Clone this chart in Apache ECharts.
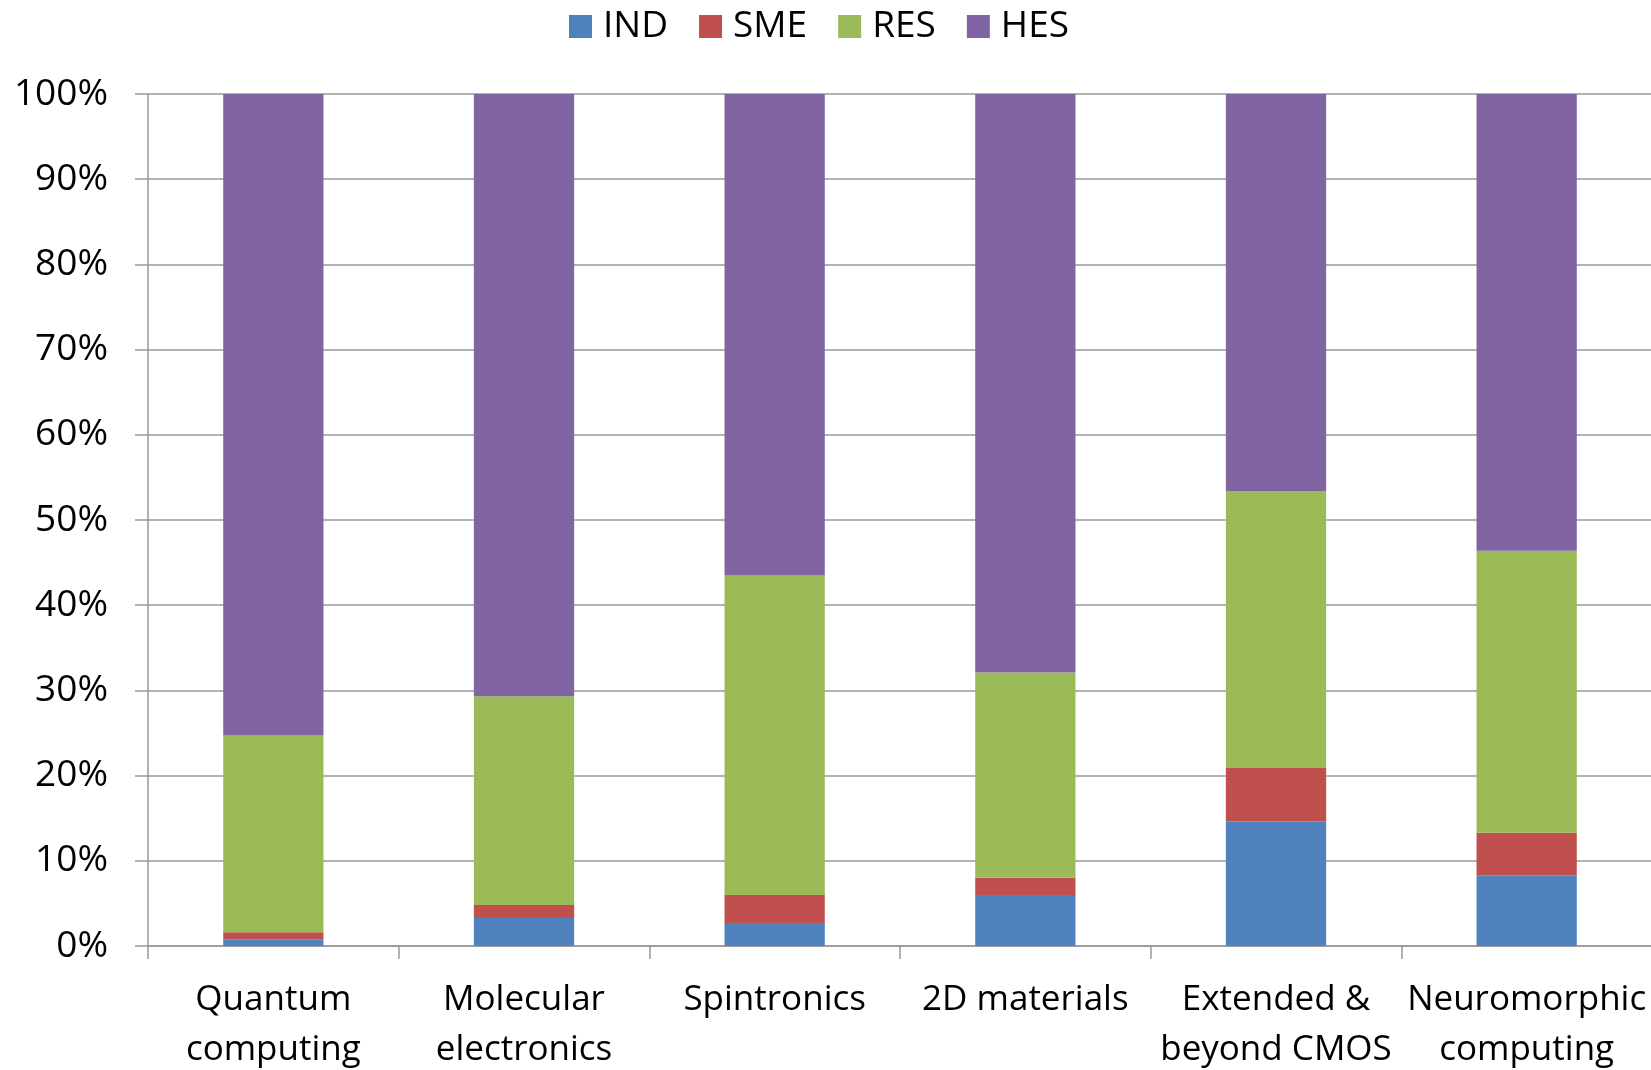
<!DOCTYPE html>
<html><head><meta charset="utf-8">
<script src="https://cdn.jsdelivr.net/npm/echarts@6/dist/echarts.min.js"></script>
<style>html,body{margin:0;padding:0;background:#fff}#c{width:1651px;height:1070px}</style>
</head><body><div id="c"></div>
<script>
const categories = ['Quantum\ncomputing','Molecular\nelectronics','Spintronics','2D materials','Extended &\nbeyond CMOS','Neuromorphic\ncomputing'];
const IND = [0.8, 3.3, 2.7, 6.0, 14.6, 8.3];
const SME = [0.8, 1.5, 3.3, 2.0, 6.3, 5.0];
const RES = [23.1, 24.5, 37.5, 24.1, 32.5, 33.1];
const HES = [75.3, 70.7, 56.5, 67.9, 46.6, 53.6];
const yTicks = [0,10,20,30,40,50,60,70,80,90,100];

const font = '"Open Sans", sans-serif';
const chart = echarts.init(document.getElementById('c'));
const mk = (name, data, color) => ({name, type:'bar', stack:'s', data, barWidth:'40%',
  itemStyle:{color}});
chart.setOption({
  animation:false,
  legend:{top:3, left:564, itemWidth:23, itemHeight:23, itemGap:31,
    textStyle:{fontFamily:font, fontSize:37, color:'#000', padding:[0,0,0,6]},
    icon:'rect', data:['IND','SME','RES','HES']},
  grid:{left:148, right:-1, top:94, bottom:124, outerBoundsMode:'none', containLabel:false},
  xAxis:{type:'category', data:categories,
    axisLine:{lineStyle:{color:'#999', width:1.5}},
    axisTick:{show:true, length:13, lineStyle:{color:'#999', width:1.5}},
    axisLabel:{fontFamily:font, fontSize:35, color:'#000', lineHeight:50, margin:29, interval:0}},
  yAxis:{type:'value', min:0, max:100, interval:10,
    axisLine:{show:true, lineStyle:{color:'#999', width:1.5}},
    axisTick:{show:true, length:13, lineStyle:{color:'#999', width:1.5}},
    splitLine:{lineStyle:{color:'#999', width:1.5}},
    axisLabel:{fontFamily:font, fontSize:37, color:'#000', margin:40,
      formatter:v => yTicks.includes(v) ? v + '%' : ''}},
  series:[mk('IND',IND,'#4F81BD'), mk('SME',SME,'#C0504D'), mk('RES',RES,'#9BBB59'), mk('HES',HES,'#8064A2')]
});
</script></body></html>
